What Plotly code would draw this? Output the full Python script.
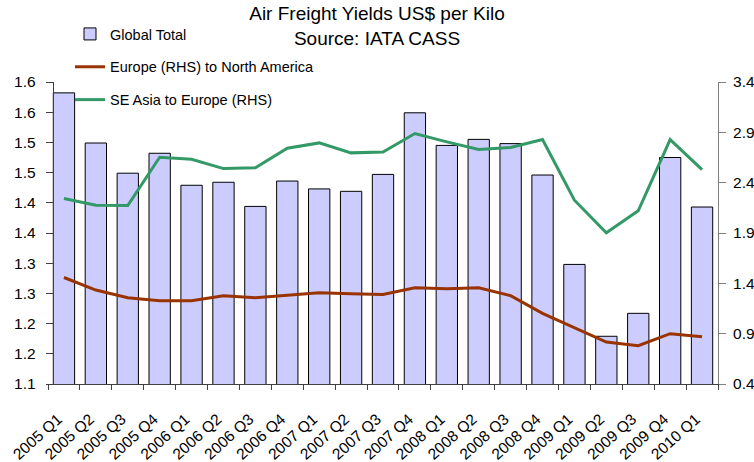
import plotly.graph_objects as go

categories = ["2005 Q1", "2005 Q2", "2005 Q3", "2005 Q4", "2006 Q1", "2006 Q2", "2006 Q3",
              "2006 Q4", "2007 Q1", "2007 Q2", "2007 Q3", "2007 Q4", "2008 Q1", "2008 Q2",
              "2008 Q3", "2008 Q4", "2009 Q1", "2009 Q2", "2009 Q3", "2009 Q4", "2010 Q1"]

global_total = [1.582, 1.499, 1.449, 1.482, 1.429, 1.434, 1.394, 1.436, 1.423, 1.419, 1.447,
                1.549, 1.495, 1.505, 1.498, 1.446, 1.298, 1.179, 1.217, 1.475, 1.393]

europe_na = [1.458, 1.333, 1.257, 1.227, 1.227, 1.277, 1.257, 1.283, 1.306, 1.296, 1.290,
             1.356, 1.346, 1.356, 1.277, 1.101, 0.959, 0.817, 0.780, 0.900, 0.870]

se_asia_europe = [2.243, 2.176, 2.173, 2.653, 2.633, 2.540, 2.547, 2.742, 2.795, 2.696, 2.705,
                  2.888, 2.805, 2.729, 2.749, 2.828, 2.226, 1.902, 2.120, 2.828, 2.530]

left_tickvals = [1.10, 1.15, 1.20, 1.25, 1.30, 1.35, 1.40, 1.45, 1.50, 1.55, 1.60]
left_ticktext = ["1.1", "1.2", "1.2", "1.3", "1.3", "1.4", "1.4", "1.5", "1.5", "1.6", "1.6"]
right_tickvals = [0.4, 0.9, 1.4, 1.9, 2.4, 2.9, 3.4]

FONT = "Liberation Sans, Arial, sans-serif"
W, H = 754, 462
ML, MR, MT, MB = 48, 36, 82, 78

fig = go.Figure()
fig.add_trace(go.Bar(
    x=categories, y=global_total, name="Global Total",
    marker=dict(color="#CCCCFF", line=dict(color="#000000", width=1)),
    legendgroup="a", yaxis="y",
))
fig.add_trace(go.Scatter(
    x=categories, y=europe_na, name="Europe (RHS) to North America",
    mode="lines", line=dict(color="#993300", width=3),
    legendgroup="b", yaxis="y2",
))
fig.add_trace(go.Scatter(
    x=categories, y=se_asia_europe, name="SE Asia to Europe (RHS)",
    mode="lines", line=dict(color="#339966", width=3),
    legendgroup="c", yaxis="y2",
))

yaxis_pos = (52.7 - ML) / (W - ML - MR)

fig.update_layout(
    width=W, height=H,
    margin=dict(l=ML, r=MR, t=MT, b=MB, pad=0, autoexpand=False),
    paper_bgcolor="white", plot_bgcolor="white",
    font=dict(family=FONT, size=15, color="black"),
    title=dict(text="Air Freight Yields US$ per Kilo<br>Source: IATA CASS",
               x=0.5, xanchor="center", xref="container",
               y=1 - 20 / H, yanchor="top", yref="container",
               font=dict(family=FONT, size=19, color="black")),
    bargap=0.332,
    showlegend=True,
    legend=dict(x=(70 - ML) / (W - ML - MR), xanchor="left",
                y=1 - 18 / H, yanchor="top", yref="container",
                bgcolor="rgba(0,0,0,0)", font=dict(family=FONT, size=14.5, color="black"),
                tracegroupgap=11, itemwidth=30),
    xaxis=dict(type="category", range=[-0.5, 20.5], domain=[0, 1],
               showline=True, linecolor="#404040", linewidth=1,
               ticks="outside", ticklen=5, tickcolor="#404040", tickson="boundaries",
               tickangle=-42, showgrid=False, zeroline=False, automargin=False,
               ticklabelstandoff=19, ticklabelshift=-6,
               tickfont=dict(family=FONT, size=15.5, color="black")),
    yaxis=dict(range=[1.10, 1.60], tickvals=left_tickvals, ticktext=left_ticktext,
               anchor="free", position=yaxis_pos, automargin=False,
               showline=True, linecolor="#404040", linewidth=1,
               ticks="outside", ticklen=7, tickcolor="#404040",
               showgrid=False, zeroline=False, ticklabelstandoff=7,
               tickfont=dict(family=FONT, size=15.5, color="black")),
    yaxis2=dict(range=[0.4, 3.4], tickvals=right_tickvals, tickformat=".1f",
                overlaying="y", side="right", anchor="x", automargin=False,
                showline=True, linecolor="#808080", linewidth=1,
                ticks="outside", ticklen=7, tickcolor="#808080",
                showgrid=False, zeroline=False, ticklabelstandoff=4,
                tickfont=dict(family=FONT, size=15.5, color="black")),
    hovermode=False,
)

fig.write_html("out.html", config={"displayModeBar": False},
               post_script="document.body.style.margin='0';document.body.style.overflow='hidden';")
